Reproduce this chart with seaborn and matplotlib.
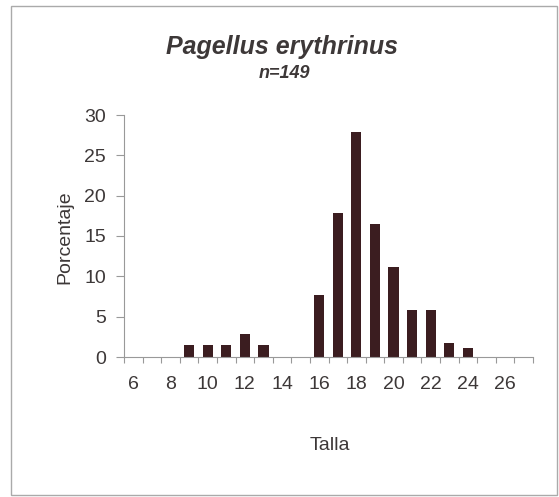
import numpy as np
import pandas as pd
import matplotlib
matplotlib.use("Agg")
import matplotlib.pyplot as plt
from matplotlib.patches import Rectangle
from matplotlib.ticker import FixedLocator
import seaborn as sns

talla = list(range(6, 28))
porcentaje = [0, 0, 0, 1.45, 1.45, 1.45, 2.9, 1.45, 0, 0,
              7.7, 17.8, 27.9, 16.5, 11.2, 5.8, 5.8, 1.75, 1.1, 0, 0, 0]
tick_labels = [str(t) if t % 2 == 0 else "" for t in talla]

sns.set_theme(style="white")
plt.rcParams['font.family'] = ['Liberation Sans', 'DejaVu Sans']
text_col = "#3d3838"

df = pd.DataFrame({"Talla": talla, "Porcentaje": porcentaje})

fig = plt.figure(figsize=(5.59, 4.97), dpi=100)
ax = fig.add_axes([124 / 559, 1 - 357 / 497, (533 - 124) / 559, (357 - 115) / 497])
sns.barplot(data=df, x="Talla", y="Porcentaje", order=talla, color="#3b1d20",
            width=0.55, saturation=1, linewidth=0, ax=ax)

ax.set_xlim(-0.5, len(talla) - 0.5)
ax.set_ylim(0, 30)
ax.set_yticks([0, 5, 10, 15, 20, 25, 30])
ax.set_xticks(range(len(talla)))
ax.set_xticklabels(tick_labels)
ax.tick_params(axis="x", length=0, pad=14, labelsize=14, labelcolor=text_col)
ax.xaxis.set_minor_locator(FixedLocator(np.arange(-0.5, len(talla), 1)))
ax.tick_params(axis="x", which="minor", bottom=True, length=4, width=0.8, color="#999999")
ax.tick_params(axis="y", left=True, length=6, width=0.8, color="#999999",
               pad=7, labelsize=14, labelcolor=text_col)
for s in ["top", "right"]:
    ax.spines[s].set_visible(False)
for s in ["left", "bottom"]:
    ax.spines[s].set_color("#999999")
    ax.spines[s].set_linewidth(0.8)
ax.set_xlabel("")
ax.set_ylabel("")

fig.text(282 / 559, 1 - 47 / 497, "Pagellus erythrinus", ha="center", va="center",
         fontsize=18, fontweight="bold", style="italic", color=text_col)
fig.text(284 / 559, 1 - 73 / 497, "n=149", ha="center", va="center",
         fontsize=13, fontweight="bold", style="italic", color=text_col)
fig.text(330 / 559, 1 - 445 / 497, "Talla", ha="center", va="center",
         fontsize=14, color=text_col)
fig.text(65 / 559, 1 - 237 / 497, "Porcentaje", ha="center", va="center",
         rotation=90, fontsize=14, color=text_col)

fig.patches.append(Rectangle((11 / 559, 2 / 497), 546 / 559, 489 / 497,
                             transform=fig.transFigure, fill=False,
                             edgecolor="#aaaaaa", linewidth=1))

fig.savefig("out.png", dpi=100, facecolor="white")
